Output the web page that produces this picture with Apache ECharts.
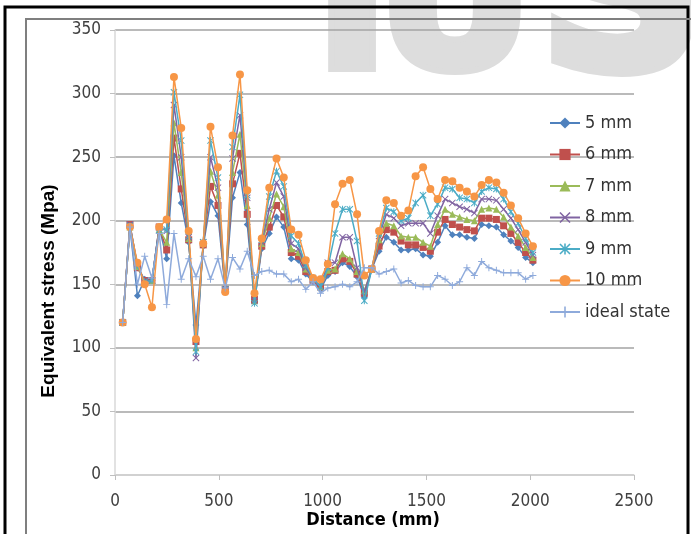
<!DOCTYPE html>
<html>
<head>
<meta charset="utf-8">
<title>Equivalent stress</title>
<script src="https://cdn.jsdelivr.net/npm/echarts@6/dist/echarts.min.js"></script>
<style>
  html, body { margin: 0; padding: 0; background: #fff; }
  #main { width: 691px; height: 534px; }
</style>
</head>
<body>
<div id="main"></div>
<script>
// distance along the path (mm)
var distance = [37, 72, 108, 143, 178, 213, 249, 284, 319, 355, 390, 425, 460, 496, 531, 566, 602, 637, 672, 707,
  743, 778, 813, 849, 884, 919, 954, 990, 1025, 1060, 1096, 1131, 1166, 1201, 1237, 1272, 1307, 1343, 1378, 1413,
  1448, 1484, 1519, 1554, 1590, 1625, 1660, 1695, 1731, 1766, 1801, 1837, 1872, 1907, 1942, 1978, 2013];

// equivalent stress (Mpa)
var mm5 = [120, 195, 141, 154, 153, 195, 170, 251, 214, 183, 118, 180, 215, 204, 146, 218, 238, 197, 136, 178,
  190, 203, 195, 170, 169, 158, 152, 146, 157, 160, 167, 164, 156, 140, 162, 176, 187, 183, 177, 177,
  178, 173, 172, 183, 196, 189, 189, 187, 186, 197, 196, 195, 189, 184, 179, 171, 167];
var mm6 = [120, 197, 163, 153, 153, 195, 177, 265, 225, 185, 105, 181, 227, 212, 146, 229, 253, 205, 138, 180,
  195, 212, 203, 175, 172, 160, 153, 148, 160, 161, 170, 168, 158, 143, 162, 180, 193, 191, 184, 181,
  181, 179, 176, 191, 201, 197, 195, 193, 192, 202, 202, 201, 196, 190, 183, 175, 169];
var mm7 = [120, 195, 164, 152, 153, 193, 183, 277, 238, 186, 100, 182, 239, 220, 146, 238, 268, 212, 137, 182,
  202, 221, 211, 178, 175, 162, 154, 148, 161, 162, 174, 170, 160, 145, 162, 185, 198, 196, 188, 187,
  187, 183, 180, 197, 209, 205, 203, 201, 200, 209, 210, 209, 203, 195, 188, 179, 171];
var mm8 = [120, 197, 165, 153, 153, 195, 192, 291, 250, 187, 92, 183, 250, 226, 146, 249, 283, 218, 137, 183,
  209, 230, 219, 182, 178, 163, 154, 148, 167, 167, 187, 187, 163, 144, 162, 188, 205, 202, 196, 198,
  198, 198, 190, 204, 217, 214, 211, 209, 206, 217, 217, 216, 209, 202, 193, 183, 173];
var mm9 = [120, 196, 165, 152, 153, 193, 193, 301, 263, 188, 97, 183, 263, 234, 146, 258, 299, 220, 135, 185,
  219, 239, 227, 188, 182, 165, 155, 148, 163, 190, 209, 209, 184, 137, 162, 190, 210, 207, 200, 202,
  214, 220, 204, 213, 226, 225, 218, 217, 214, 223, 226, 225, 217, 207, 198, 186, 175];
var mm10 = [120, 195, 167, 150, 132, 195, 201, 313, 273, 192, 107, 182, 274, 242, 144, 267, 315, 224, 143, 186,
  226, 249, 234, 193, 189, 169, 155, 154, 166, 213, 229, 232, 205, 157, 162, 192, 216, 214, 204, 208,
  235, 242, 225, 217, 232, 231, 226, 223, 219, 228, 232, 230, 222, 212, 202, 190, 180];
var ideal = [120, 195, 150, 172, 155, 190, 134, 190, 154, 170, 156, 172, 154, 170, 147, 171, 162, 176, 157, 160,
  161, 158, 158, 152, 154, 146, 152, 143, 147, 148, 150, 148, 152, 163, 163, 158, 160, 162, 151, 153,
  149, 148, 148, 157, 154, 149, 152, 163, 157, 168, 163, 161, 159, 159, 159, 154, 157];

var seriesNames = ['5 mm', '6 mm', '7 mm', '8 mm', '9 mm', '10 mm', 'ideal state'];
var seriesValues = [mm5, mm6, mm7, mm8, mm9, mm10, ideal];
var seriesColors = ['#4F81BD', '#C0504D', '#9BBB59', '#8064A2', '#4BACC6', '#F79646', '#8EAADB'];

var crossPath = 'path://M1,0L5,4L9,0L10,1L6,5L10,9L9,10L5,6L1,10L0,9L4,5L0,1Z';
var starPath = 'path://M1,0L5,4L9,0L10,1L6,5L10,9L9,10L5,6L1,10L0,9L4,5L0,1ZM4.3,0H5.7V10H4.3Z';
var plusPath = 'path://M4.3,0H5.7V4.3H10V5.7H5.7V10H4.3V5.7H0V4.3H4.3Z';
var seriesSymbols = ['diamond', 'rect', 'triangle', crossPath, starPath, 'circle', plusPath];
var symbolSizes = [7, 7, 7, 7, 7, 8, 7];

var tickFont = '"Liberation Sans Narrow", "DejaVu Sans Condensed", sans-serif';
var markFont = 'bold 190px "DejaVu Sans", sans-serif';

var chart = echarts.init(document.getElementById('main'));

var series = seriesNames.map(function (name, k) {
  return {
    name: name,
    type: 'line',
    data: distance.map(function (d, i) { return [d, seriesValues[k][i]]; }),
    symbol: seriesSymbols[k],
    symbolSize: symbolSizes[k],
    showAllSymbol: true,
    z: 3 + k,
    lineStyle: { color: seriesColors[k], width: 1.5 },
    itemStyle: { color: seriesColors[k] },
    emphasis: { disabled: true }
  };
});

function plain(v) { return String(v); }

chart.setOption({
  animation: false,
  backgroundColor: '#fff',
  grid: { left: 115, right: 57, top: 30, bottom: 59, containLabel: false },
  xAxis: {
    type: 'value',
    min: 0, max: 2500, interval: 500,
    axisLine: { show: true, lineStyle: { color: '#D9D9D9', width: 1.5 } },
    axisTick: { show: true, length: 5, inside: false, lineStyle: { color: '#BFBFBF' } },
    splitLine: { show: false },
    axisLabel: { color: '#404040', fontSize: 17, fontFamily: tickFont, margin: 18, formatter: plain }
  },
  yAxis: {
    type: 'value',
    min: 0, max: 350, interval: 50,
    axisLine: { show: true, lineStyle: { color: '#D9D9D9', width: 1.5 } },
    axisTick: { show: true, length: 5, lineStyle: { color: '#BFBFBF' } },
    splitLine: { show: true, lineStyle: { color: '#A3A3A3', width: 1.5 } },
    axisLabel: { color: '#404040', fontSize: 17, fontFamily: tickFont, margin: 14, formatter: plain }
  },
  legend: {
    orient: 'vertical',
    left: 544, top: 109,
    itemWidth: 30, itemHeight: 14, itemGap: 13.5,
    textStyle: { color: '#333', fontSize: 18, fontFamily: tickFont },
    data: seriesNames
  },
  graphic: [
    { type: 'text', z: -10, silent: true,
      style: { text: 'I', x: 352, y: 112, fill: '#DDDDDD', stroke: '#DDDDDD', lineWidth: 12, font: markFont, align: 'center', verticalAlign: 'bottom' } },
    { type: 'text', z: -10, silent: true,
      style: { text: 'U', x: 455, y: 112, fill: '#DDDDDD', stroke: '#DDDDDD', lineWidth: 12, font: markFont, align: 'center', verticalAlign: 'bottom' } },
    { type: 'text', z: -10, silent: true,
      style: { text: 'S', x: 622, y: 123, fill: '#DDDDDD', stroke: '#DDDDDD', lineWidth: 12, font: 'bold 230px "DejaVu Sans", sans-serif', align: 'center', verticalAlign: 'bottom' } },
    { type: 'rect', z: 100, silent: true,
      shape: { x: 5, y: 7, width: 683, height: 600 }, style: { fill: 'none', stroke: '#000', lineWidth: 3 } },
    { type: 'rect', z: 100, silent: true,
      shape: { x: 26, y: 19, width: 700, height: 600 }, style: { fill: 'none', stroke: '#7F7F7F', lineWidth: 2 } },
    { type: 'text', z: 100, silent: true, x: 49, y: 291, rotation: Math.PI / 2,
      style: { text: 'Equivalent stress (Mpa)', fill: '#000', font: 'bold 19px "Liberation Sans", sans-serif', align: 'center', verticalAlign: 'middle' } },
    { type: 'text', z: 100, silent: true,
      style: { text: 'Distance (mm)', x: 373, y: 520, fill: '#000', font: 'bold 18px ' + tickFont, align: 'center', verticalAlign: 'middle' } }
  ],
  series: series
});
</script>
</body>
</html>
